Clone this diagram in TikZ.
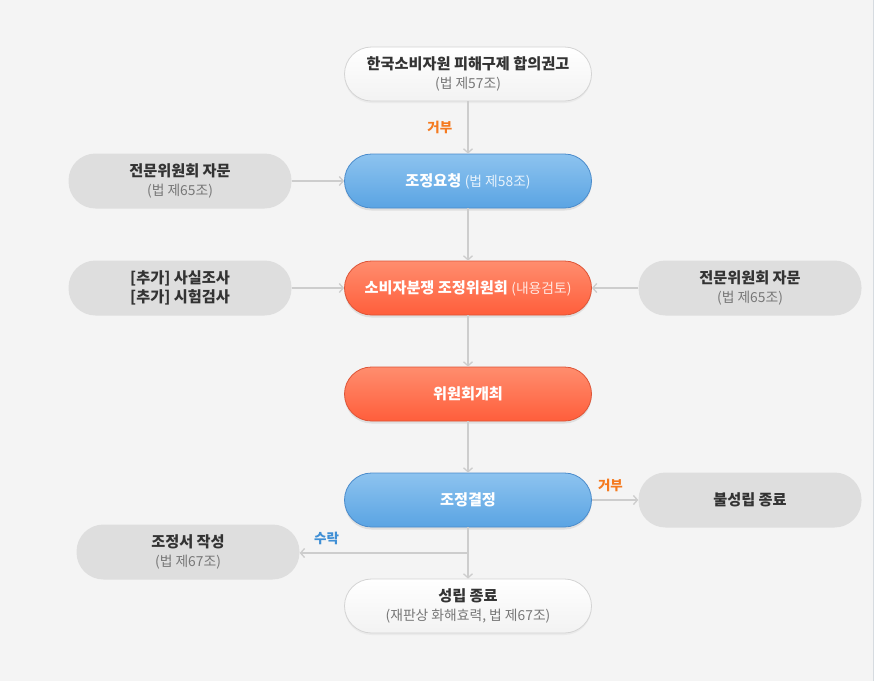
\documentclass[tikz,border=0pt]{standalone}
\usepackage{fontspec}
\setmainfont{Noto Sans CJK KR}
\usetikzlibrary{arrows.meta,shadows}
\definecolor{pagebg}{HTML}{F4F4F4}
\definecolor{pageedge}{HTML}{D6DBE0}
\definecolor{linegray}{HTML}{CDCDCD}
\definecolor{boxgray}{HTML}{DEDEDE}
\definecolor{textdark}{HTML}{333333}
\definecolor{textsub}{HTML}{777777}
\definecolor{bluetop}{HTML}{8DC3EF}
\definecolor{bluebot}{HTML}{5AA4E3}
\definecolor{blueedge}{HTML}{4A8BCB}
\definecolor{redtop}{HTML}{FF8D6E}
\definecolor{redbot}{HTML}{FF5E3B}
\definecolor{rededge}{HTML}{DD5436}
\definecolor{whiteedge}{HTML}{D4D4D4}
\definecolor{siteorange}{HTML}{F57A1F}
\definecolor{siteblue}{HTML}{3F8FD5}

\newcommand{\subline}[1]{{\fontsize{13.8}{19}\selectfont\mdseries #1}}

\begin{document}
\begin{tikzpicture}[
      x=1pt,y=1pt,
      box/.style={rectangle, rounded corners=27pt, minimum width=247pt, minimum height=54pt,
        inner sep=0pt, align=center, font=\bfseries\fontsize{15.2}{19}\selectfont},
      bluebox/.style={box, draw=blueedge, line width=0.8pt, top color=bluetop, bottom color=bluebot,
        text=white, drop shadow={opacity=0.18, shadow xshift=0pt, shadow yshift=-2.5pt}},
      redbox/.style={box, draw=rededge, line width=0.8pt, top color=redtop, bottom color=redbot,
        text=white, drop shadow={opacity=0.18, shadow xshift=0pt, shadow yshift=-2.5pt}},
      whitebox/.style={box, draw=whiteedge, line width=0.8pt, top color=white, bottom color=white!95!black,
        text=textdark, drop shadow={opacity=0.08, shadow xshift=0pt, shadow yshift=-2pt}},
      graybox/.style={box, minimum width=223pt, minimum height=55pt, fill=boxgray, text=textdark},
      link/.style={draw=linegray, line width=1.5pt, -{Straight Barb[length=4pt,width=9pt,line width=1.3pt]}},
      tag/.style={font=\bfseries\fontsize{13.5}{16}\selectfont, inner sep=1pt}
    ]
      \fill[pagebg] (0,0) rectangle (874,-681);
      \useasboundingbox (0,0) rectangle (874,-681);
      \draw[pageedge, line width=1pt] (873.5,0) -- (873.5,-681);

      % main column
      \node[whitebox] (advise) at (468,-74) {한국소비자원 피해구제 합의권고\\\textcolor{textsub}{\subline{(법 제57조)}}};
      \node[bluebox] (request) at (468,-181) {조정요청 \textcolor{white!80!bluetop}{\subline{(법 제58조)}}};
      \node[redbox] (committee) at (468,-288) {소비자분쟁 조정위원회 \textcolor{white!80!redtop}{\subline{(내용검토)}}};
      \node[redbox] (meeting) at (468,-394) {위원회개최};
      \node[bluebox] (decision) at (468,-500) {조정결정};
      \node[whitebox] (success) at (468,-606) {성립 종료\\\textcolor{textsub}{\subline{(재판상 화해효력, 법 제67조)}}};

      % side boxes
      \node[graybox] (expert1) at (180,-181) {전문위원회 자문\\\textcolor{textsub}{\subline{(법 제65조)}}};
      \node[graybox] (survey) at (180,-288) {[추가] 사실조사\\{}[추가] 시험검사};
      \node[graybox] (expert2) at (750,-288) {전문위원회 자문\\\textcolor{textsub}{\subline{(법 제65조)}}};
      \node[graybox] (fail) at (750,-500) {불성립 종료};
      \node[graybox] (record) at (188,-552) {조정서 작성\\\textcolor{textsub}{\subline{(법 제67조)}}};

      % connectors
      \draw[link] (advise) -- node[tag, left=14pt, text=siteorange] (refuse1) {거부} (request);
      \draw[link] (expert1) -- (request);
      \draw[link] (request) -- (committee);
      \draw[link] (survey) -- (committee);
      \draw[link] (expert2) -- (committee);
      \draw[link] (committee) -- (meeting);
      \draw[link] (meeting) -- (decision);
      \draw[link] (decision) -- node[tag, pos=0.4, above=6pt, text=siteorange] (refuse2) {거부} (fail);
      \draw[link] (decision) -- (success);
      \coordinate (split) at (468,-553);
      \draw[link] (split) -- node[tag, pos=0.84, above=6pt, text=siteblue] (accept) {수락} (record.east |- split);
    \end{tikzpicture}
\end{document}
